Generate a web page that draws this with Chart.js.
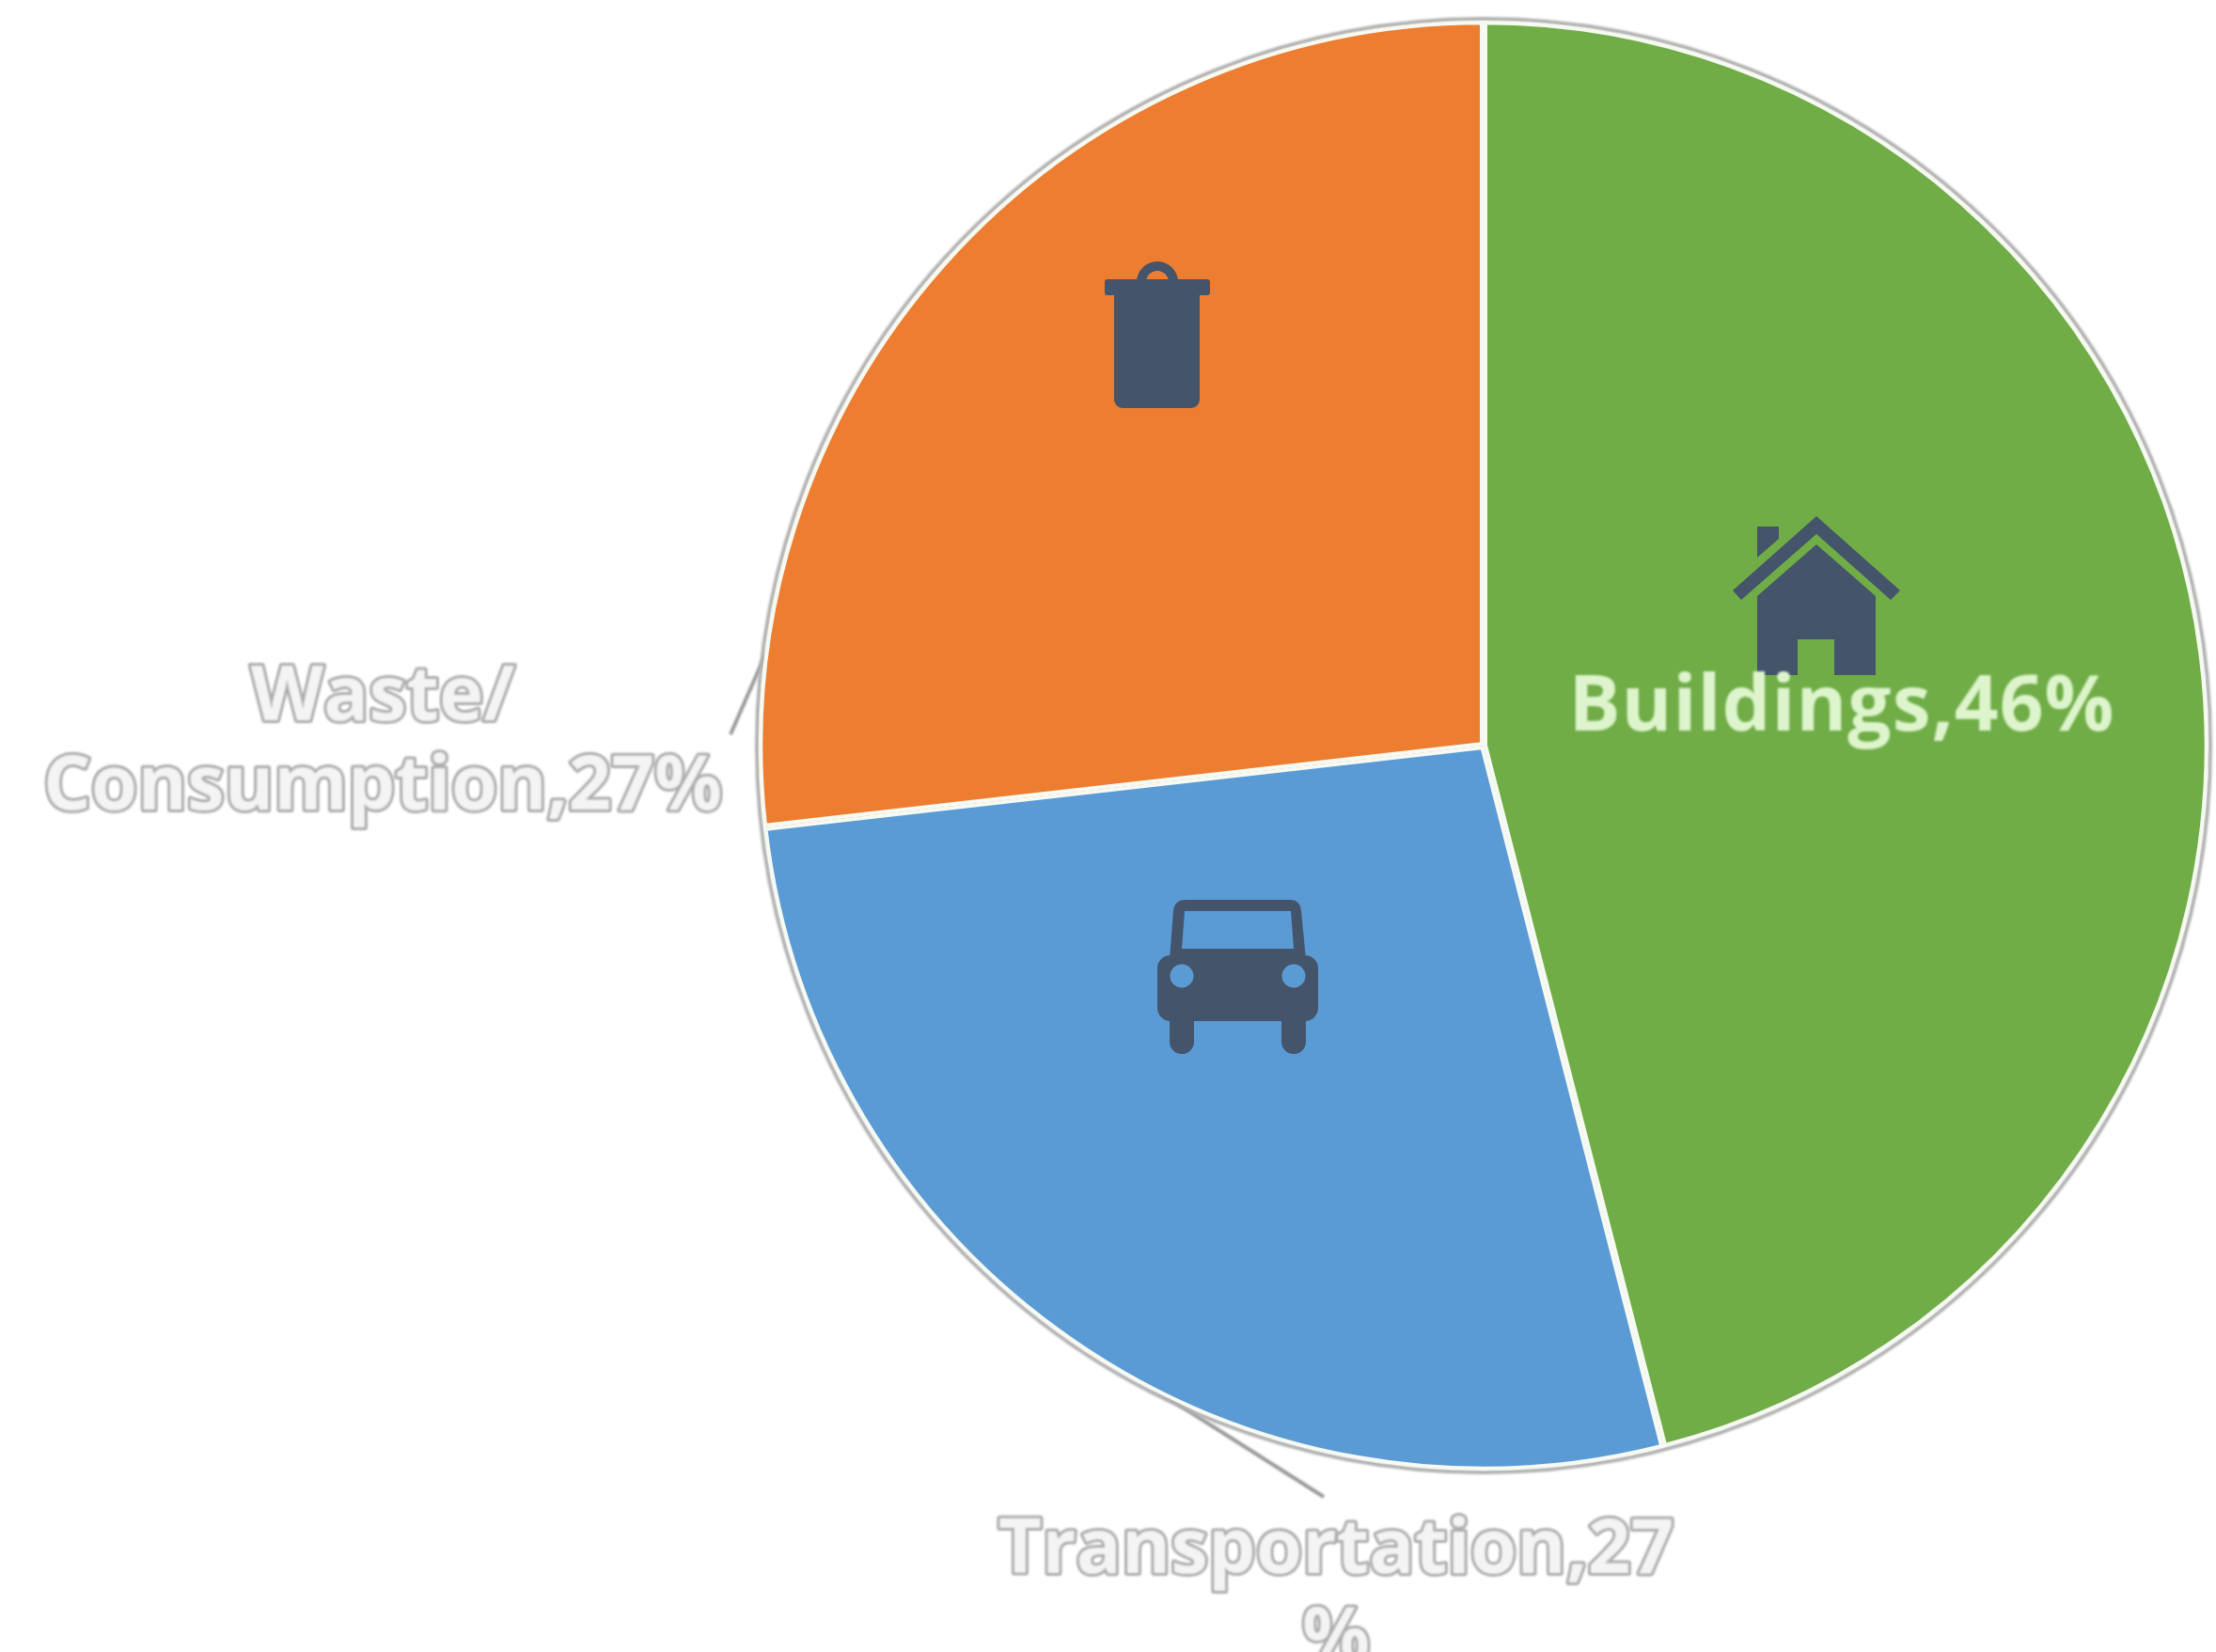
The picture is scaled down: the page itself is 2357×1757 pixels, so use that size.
<!DOCTYPE html>
<html>
<head>
<meta charset="utf-8">
<style>html,body{margin:0;padding:0;background:#fff;overflow:hidden}canvas{display:block}</style>
<script src="https://cdn.jsdelivr.net/npm/chart.js@4/dist/chart.umd.min.js"></script>
</head>
<body>
<canvas id="c" width="2357" height="1757"></canvas>
<script>
const categories = ["Buildings", "Transportation", "Waste/Consumption"];
const shares = [46, 27.2, 26.8];
const sliceColors = ["#70AD47", "#5B9BD5", "#ED7D31"];
const labelLines = [["Buildings,46%"], ["Transportation,27", "%"], ["Waste/", "Consumption,27%"]];

const FONT = '700 82px "Open Sans"';
const OUTLINE_FONT = '700 80px "Open Sans"';
const ICON = "#44546A";

const trash = new Path2D();
trash.roundRect(1175, 297, 112, 17, 3);
trash.roundRect(1185, 305, 91, 129, [0, 0, 9, 9]);
const handle = new Path2D();
handle.arc(1231, 300, 22, Math.PI, 0);
handle.lineTo(1243, 300);
handle.arc(1231, 300, 12, 0, Math.PI, true);
handle.closePath();

const house = new Path2D(
  "M1932 549 L2021 628 L2011 638 L1932 568 L1852 638 L1843 628 Z" +
  "M1869 560 L1892 560 L1892 573 L1869 593 Z" +
  "M1932 579 L1995 634 L1995 718 L1951 718 L1951 680 L1912 680 L1912 718 L1869 718 L1869 634 Z");

const car = new Path2D();
car.roundRect(1231, 1016, 171, 70, 14);
car.moveTo(1244, 1020);
car.lineTo(1248, 969);
car.quadraticCurveTo(1249, 957, 1261, 957);
car.lineTo(1372, 957);
car.quadraticCurveTo(1383, 957, 1384, 969);
car.lineTo(1389, 1020);
car.closePath();
car.roundRect(1244, 1070, 26, 51, [0, 0, 13, 13]);
car.roundRect(1363, 1070, 26, 51, [0, 0, 13, 13]);
const carHoles = new Path2D("M1260 969 L1373 969 L1376 1009 L1257 1009 Z");
carHoles.moveTo(1269.5, 1038);
carHoles.arc(1257, 1038, 12.5, 0, Math.PI * 2);
carHoles.moveTo(1388.5, 1038);
carHoles.arc(1376, 1038, 12.5, 0, Math.PI * 2);

const decorations = {
  id: "decorations",
  beforeDatasetsDraw(chart) {
    const { ctx } = chart;
    ctx.save();
    ctx.filter = "blur(0.8px)";
    ctx.strokeStyle = "#9a9a9a";
    ctx.lineWidth = 4;
    ctx.beginPath();
    ctx.moveTo(777, 781); ctx.lineTo(830, 660);
    ctx.moveTo(1408, 1592); ctx.lineTo(1200, 1460);
    ctx.stroke();
    const a = chart.getDatasetMeta(0).data[0];
    ctx.strokeStyle = "#b0b0b0";
    ctx.lineWidth = 4;
    ctx.beginPath();
    ctx.arc(a.x, a.y, a.outerRadius + 2, 0, Math.PI * 2);
    ctx.stroke();
    ctx.restore();
  },
  afterDatasetsDraw(chart) {
    const { ctx } = chart;
    ctx.save();
    ctx.fillStyle = ICON;
    ctx.fill(trash);
    ctx.fill(handle);
    ctx.fill(house);
    ctx.fill(car);
    ctx.fillStyle = sliceColors[1];
    ctx.fill(carHoles);

    ctx.filter = "blur(1.2px)";
    ctx.font = FONT;
    ctx.letterSpacing = "1px";
    ctx.textAlign = "center";
    ctx.textBaseline = "alphabetic";
    ctx.lineJoin = "round";
    ctx.fillStyle = "#DDF4CC";
    ctx.fillText(labelLines[0][0], 1959, 777);

    ctx.filter = "blur(0.8px)";
    ctx.font = OUTLINE_FONT;
    ctx.letterSpacing = "0px";
    const outlined = (text, x, y) => {
      ctx.strokeStyle = "#adadad";
      ctx.lineWidth = 6;
      ctx.strokeText(text, x, y);
      ctx.fillStyle = "#f4f4f4";
      ctx.fillText(text, x, y);
    };
    outlined(labelLines[1][0], 1421, 1673);
    outlined(labelLines[1][1], 1421, 1767);
    outlined(labelLines[2][0], 407, 766);
    outlined(labelLines[2][1], 407, 861);
    ctx.restore();
  }
};

new Chart(document.getElementById("c"), {
  type: "pie",
  data: {
    labels: categories,
    datasets: [{
      data: shares,
      backgroundColor: sliceColors,
      borderColor: "#F6FAF2",
      borderWidth: 4,
      borderAlign: "inner",
      radius: 771
    }]
  },
  options: {
    responsive: false,
    animation: false,
    layout: { padding: { left: 808, right: 9, top: 23, bottom: 194 } },
    plugins: { legend: { display: false }, tooltip: { enabled: false } }
  },
  plugins: [decorations]
});
</script>
</body>
</html>
